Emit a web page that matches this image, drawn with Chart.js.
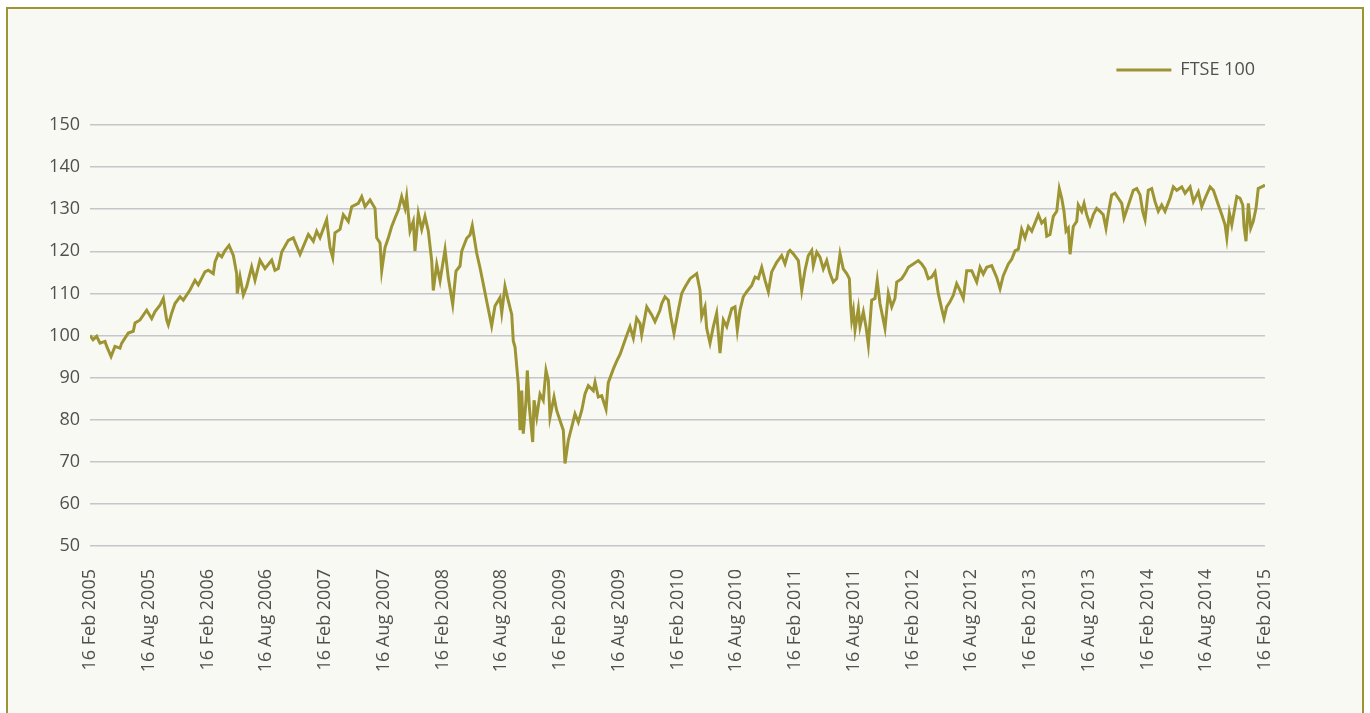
<!DOCTYPE html>
<html>
<head>
<meta charset="utf-8">
<title>FTSE 100</title>
<script src="https://cdn.jsdelivr.net/npm/chart.js@4.4.1/dist/chart.umd.min.js"></script>
<style>
  html, body { margin: 0; padding: 0; background: #fff; overflow: hidden; }
  .frame {
    position: absolute; left: 6px; top: 7px;
    width: 1354px; height: 760px;
    border: 2px solid #9d9433; background: #f9f9f4;
  }
  #chart { position: absolute; left: 0; top: 0; }
</style>
</head>
<body>
<div class="frame"></div>
<canvas id="chart" width="1370" height="713"></canvas>
<script>
// x positions are months after 16 Feb 2005, values are the index rebased to 100
const months = [
  0, 0.31, 0.68, 1.02, 1.53, 1.71, 2.15, 2.55, 3.06, 3.24, 3.91, 4.42, 4.6, 5.11, 5.79, 6.3, 6.64, 7.15, 7.49, 7.83,
  8.0, 8.34, 8.68, 9.19, 9.53, 10.21, 10.72, 11.06, 11.74, 12.08, 12.59, 12.77, 13.1, 13.45, 13.79, 14.2, 14.64, 14.98, 15.04, 15.32,
  15.66, 16.0, 16.51, 16.85, 17.36, 17.87, 18.56, 18.89, 19.23, 19.58, 20.25, 20.76, 21.45, 22.3, 22.81, 23.15, 23.49, 24.17, 24.51, 24.79,
  25.02, 25.53, 25.87, 26.38, 26.73, 27.4, 27.75, 28.09, 28.6, 29.11, 29.28, 29.62, 29.79, 30.13, 30.47, 30.81, 31.15, 31.49, 31.83, 32.17,
  32.34, 32.68, 33.02, 33.19, 33.53, 33.88, 34.21, 34.55, 34.9, 35.06, 35.41, 35.75, 36.26, 36.59, 37.04, 37.38, 37.79, 37.96, 38.47, 38.81,
  39.04, 39.49, 39.83, 40.11, 40.51, 40.85, 41.02, 41.36, 41.87, 42.05, 42.38, 42.72, 43.07, 43.23, 43.41, 43.74, 43.92, 44.09, 44.25, 44.53,
  44.66, 44.87, 45.21, 45.35, 45.62, 45.96, 46.29, 46.57, 46.81, 46.98, 47.39, 47.66, 48.0, 48.34, 48.51, 48.85, 49.2, 49.53, 49.87, 50.22,
  50.55, 50.89, 51.4, 51.58, 51.91, 52.26, 52.7, 52.93, 53.44, 53.79, 54.13, 54.3, 54.81, 55.15, 55.49, 55.83, 56.17, 56.34, 56.86, 57.37,
  57.7, 58.21, 58.39, 58.72, 59.06, 59.31, 59.64, 60.08, 60.43, 60.77, 61.28, 61.96, 62.3, 62.47, 62.81, 62.98, 63.32, 63.66, 64.0, 64.34,
  64.68, 65.03, 65.54, 65.87, 66.11, 66.38, 66.72, 67.07, 67.58, 67.92, 68.25, 68.6, 68.94, 69.28, 69.62, 70.13, 70.64, 70.98, 71.32, 71.49,
  71.83, 72.34, 72.69, 73.02, 73.36, 73.71, 73.87, 74.22, 74.55, 74.89, 75.24, 75.58, 75.91, 76.26, 76.6, 76.93, 77.28, 77.55, 77.69, 77.79,
  77.96, 78.13, 78.47, 78.64, 78.98, 79.25, 79.49, 79.83, 80.17, 80.4, 80.68, 81.19, 81.53, 81.88, 82.21, 82.39, 82.9, 83.24, 83.57, 84.08,
  84.59, 84.94, 85.28, 85.61, 85.96, 86.3, 86.63, 86.98, 87.22, 87.49, 87.83, 88.17, 88.51, 88.85, 89.19, 89.54, 90.05, 90.56, 90.9, 91.23,
  91.58, 92.09, 92.6, 92.94, 93.27, 93.79, 94.13, 94.47, 94.81, 95.15, 95.49, 95.83, 96.18, 96.51, 96.85, 97.2, 97.53, 97.71, 98.04, 98.38,
  98.73, 98.99, 99.24, 99.47, 99.68, 99.91, 100.09, 100.42, 100.77, 100.93, 101.28, 101.52, 101.79, 102.13, 102.47, 102.81, 103.15, 103.48, 103.76, 104.0,
  104.34, 104.68, 105.02, 105.37, 105.6, 105.88, 106.22, 106.55, 106.9, 107.24, 107.51, 107.75, 108.08, 108.43, 108.77, 109.1, 109.45, 109.79, 110.3, 110.64,
  110.99, 111.5, 111.84, 112.35, 112.69, 113.19, 113.54, 113.88, 114.39, 114.73, 115.24, 115.59, 115.92, 116.1, 116.36, 116.61, 117.12, 117.45, 117.73, 117.86,
  118.06, 118.3, 118.54, 118.8, 119.08, 119.31, 119.66, 120
];

const ftse100 = [
  100, 99, 99.8, 98.2, 98.6, 97.4, 95.0, 97.4, 97, 98.2, 100.6, 101, 103, 103.7, 106, 104, 105.7, 107.2, 108.8, 103.7,
  102.5, 105.3, 107.6, 109.2, 108.4, 110.8, 113.1, 112, 115.1, 115.5, 114.7, 117.5, 119.4, 118.7, 120.2, 121.4, 119, 114.7, 110, 114,
  109.6, 111.6, 116.3, 113.1, 117.9, 115.9, 117.9, 115.5, 115.9, 119.8, 122.6, 123.2, 119.3, 124, 122.4, 124.8, 123.2, 127.5, 120.9, 118.5,
  124.4, 125.2, 128.7, 127.1, 130.6, 131.4, 133, 130.6, 132.2, 130.2, 123.2, 122, 115.4, 120.9, 123.2, 125.9, 127.9, 129.8, 133, 130.2,
  133, 124.8, 127.1, 120.1, 129, 125.2, 128.3, 124.8, 117.7, 110.7, 116.9, 113, 120.4, 113.7, 107.4, 115.3, 116.5, 120, 123.1, 123.9,
  126.1, 119.6, 116.1, 112.9, 108.2, 104.3, 102.3, 107, 109, 105.4, 111.7, 108.2, 105, 98.7, 97.2, 88.5, 77.5, 86.9, 76.7, 84.6,
  91.7, 83, 74.7, 84.6, 80.6, 86.1, 84.6, 91.7, 89.3, 80.6, 85.4, 82.2, 79.8, 77.5, 69.6, 75.1, 78.3, 81.4, 79.4, 82.2,
  86.1, 88.1, 86.9, 88.9, 85.4, 85.7, 82.5, 88.8, 92, 93.9, 95.5, 96.6, 100, 102.1, 99.4, 104.1, 102.9, 100.2, 106.8, 104.9,
  103.3, 106, 107.6, 109.2, 108.4, 104.5, 100.5, 106, 110, 111.5, 113.5, 114.7, 110.7, 104.5, 106.8, 101.7, 98.2, 102.1, 105.3, 95.8,
  103.7, 102.1, 106.4, 106.8, 101.3, 106, 109.2, 110.4, 111.9, 113.9, 113.5, 116.2, 113.1, 110.4, 115.1, 117.4, 119, 117, 119.8, 120.2,
  119.4, 117.8, 110.7, 115.5, 119, 120.2, 116.6, 119.8, 118.6, 115.8, 117.8, 114.7, 112.7, 113.5, 119.4, 115.8, 114.7, 113.5, 106.8, 103.7,
  106, 101.3, 106.4, 102.1, 105.6, 102.1, 97.8, 108.4, 108.8, 113.1, 107.6, 101.7, 110, 106.8, 108.8, 112.7, 113.5, 114.7, 116.2, 117,
  117.8, 117, 115.8, 113.5, 113.9, 115.1, 110, 106.4, 104.1, 106.8, 108, 109.6, 112.3, 110.7, 108.8, 115.4, 115.4, 112.7, 116.2, 114.6,
  116.2, 116.6, 113.8, 111.1, 114.2, 117, 118.1, 120.1, 120.5, 125.2, 123.2, 125.9, 124.8, 126.7, 128.7, 126.7, 127.5, 123.6, 124, 128.3,
  129.5, 134.9, 132.6, 129.5, 124.8, 125.5, 119.3, 125.9, 127.1, 131, 129.5, 131.4, 128.7, 126.3, 128.7, 130.2, 129.5, 128.7, 125.5, 129.1,
  133.4, 133.8, 132.6, 131.4, 127.9, 129.8, 132.2, 134.5, 134.9, 133.4, 129.5, 127.5, 134.5, 134.9, 131.8, 129.5, 131, 129.5, 132.6, 135.3,
  134.5, 135.3, 133.8, 135.3, 131.8, 134.1, 130.6, 132.6, 135.3, 134.5, 131, 128.7, 126.3, 123.2, 129.1, 126.3, 133, 132.6, 131, 125.9,
  122.4, 131.4, 125.5, 127.1, 130.2, 134.9, 135.3, 135.7
];

const tickLabels = [
  '16 Feb 2005', '16 Aug 2005', '16 Feb 2006', '16 Aug 2006', '16 Feb 2007', '16 Aug 2007',
  '16 Feb 2008', '16 Aug 2008', '16 Feb 2009', '16 Aug 2009', '16 Feb 2010', '16 Aug 2010',
  '16 Feb 2011', '16 Aug 2011', '16 Feb 2012', '16 Aug 2012', '16 Feb 2013', '16 Aug 2013',
  '16 Feb 2014', '16 Aug 2014', '16 Feb 2015'
];

const olive = '#9d9433';
const textColor = '#505050';
const font = { family: "'Open Sans', sans-serif", size: 18 };

// push the plot down a bit below the legend
const legendGap = {
  id: 'legendGap',
  beforeLayout(chart) {
    const legend = chart.legend;
    if (!legend || legend._gapPatched) return;
    const fit = legend.fit;
    legend.fit = function () {
      fit.call(this);
      this.height += 36;
    };
    legend._gapPatched = true;
  },
};

const ctx = document.getElementById('chart').getContext('2d');

// eslint-disable-next-line no-undef, no-unused-vars
const chart = new Chart(ctx, {
  type: 'line',
  data: {
    datasets: [
      {
        label: 'FTSE 100',
        data: months.map((m, i) => ({ x: m, y: ftse100[i] })),
        borderColor: olive,
        backgroundColor: olive,
        borderWidth: 3,
        pointRadius: 0,
        tension: 0,
      },
    ],
  },
  options: {
    responsive: false,
    animation: false,
    layout: { padding: { top: 51, left: 40, right: 105, bottom: 0 } },
    plugins: {
      tooltip: { enabled: false },
      legend: {
        position: 'top',
        align: 'end',
        labels: {
          boxWidth: 55,
          boxHeight: 3,
          padding: 10,
          color: textColor,
          font: font,
          generateLabels: (c) =>
            Chart.defaults.plugins.legend.labels.generateLabels(c).map((l) => ({ ...l, lineWidth: 0 })),
        },
      },
    },
    scales: {
      x: {
        type: 'linear',
        min: 0,
        max: 120,
        grid: { display: false },
        border: { display: false },
        ticks: {
          stepSize: 6,
          autoSkip: false,
          maxRotation: 90,
          minRotation: 90,
          padding: 15,
          color: textColor,
          font: font,
          callback: (v) => tickLabels[v / 6],
        },
        afterFit: (s) => { s.height = 167; },
      },
      y: {
        min: 50,
        max: 150,
        grid: { color: '#c6c6ca', lineWidth: 1.5, drawTicks: false },
        border: { display: false },
        ticks: { stepSize: 10, padding: 10, color: textColor, font: font },
        afterFit: (s) => { s.width = 50; },
      },
    },
  },
  plugins: [legendGap],
});
</script>
</body>
</html>
